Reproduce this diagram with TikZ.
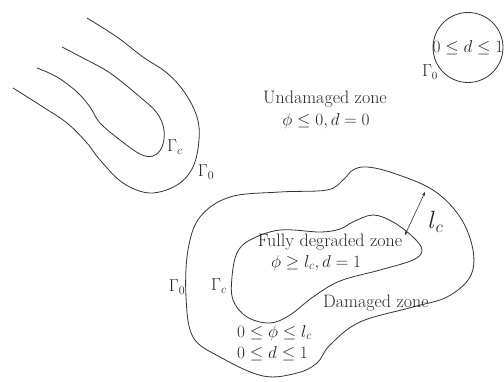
\documentclass[tikz,border=0pt]{standalone}
\usetikzlibrary{arrows.meta}
\begin{document}
\begin{tikzpicture}[x=1pt,y=-1pt,
  curve/.style={draw=black!80,line width=0.8pt},
  lbl/.style={inner sep=0pt,text=black!85,font=\fontsize{18}{21}\selectfont},
  smlbl/.style={inner sep=0pt,text=black!85,font=\fontsize{16}{19}\selectfont},
  biglbl/.style={inner sep=0pt,text=black!85,font=\fontsize{24}{28}\selectfont}]
\useasboundingbox (0,0) rectangle (504,382);
% left U-shaped fronts
\draw[curve] plot[smooth,tension=0.6] coordinates {(87,18) (117,37) (143,57) (167,73) (185,93) (197,117) (199,140) (193,167) (177,185) (150,193) (123,183) (100,160) (87,143) (67,123) (43,107) (13,88)};
\draw[curve] plot[smooth,tension=0.6] coordinates {(62,47) (83,58) (110,73) (140,97) (157,113) (164,130) (162,147) (153,156) (140,154) (120,140) (100,123) (90,107) (77,92) (57,77) (37,68)};
\node[lbl] (gcL) at (175,147) {$\Gamma_c$};
\node[lbl] (g0L) at (206,172) {$\Gamma_0$};
% small circle
\draw[curve] (468,47.5) circle[radius=35];
\node[smlbl] (circtext) at (468,47.5) {$0\leq d\leq 1$};
\node[smlbl] (g0C) at (430,72) {$\Gamma_0$};
% undamaged zone
\node[lbl] (und) at (325,99) {Undamaged zone};
\node[lbl] (undeq) at (326,121) {$\phi\leq 0, d=0$};
% big zone
\draw[curve] plot[smooth cycle,tension=0.6] coordinates {(367,167) (393,173) (433,190) (460,217) (473,250) (470,277) (447,297) (413,307) (360,322) (330,345) (317,363) (297,373) (263,376) (220,357) (193,337) (186,297) (188,250) (200,217) (230,197) (280,192) (327,190) (343,180) (353,170)};
\draw[curve] plot[smooth cycle,tension=0.6] coordinates {(353,222) (373,215) (393,222) (413,237) (422,250) (413,260) (380,270) (340,281) (313,297) (290,315) (270,323) (247,317) (233,300) (232,277) (237,253) (250,240) (280,230) (320,232) (340,229)};
\coordinate (ain) at (405,235);
\coordinate (aout) at (425,192);
\draw[black!80,line width=0.6pt,{Stealth[length=4pt,width=3pt]}-{Stealth[length=4pt,width=3pt]}] (ain) -- (aout);
\node[biglbl] (lc) at (436,222) {$l_c$};
\node[lbl] (fdz) at (330,242) {Fully degraded zone};
\node[lbl] (fdzeq) at (316,263) {$\phi\geq l_c, d=1$};
\node[lbl] (gcB) at (219,286) {$\Gamma_c$};
\node[lbl] (g0B) at (177,287) {$\Gamma_0$};
\node[lbl,anchor=west] (dz) at (323,303) {Damaged zone};
\node[lbl,anchor=west] (dzeq1) at (237,333) {$0\leq\phi\leq l_c$};
\node[lbl,anchor=west] (dzeq2) at (237,354) {$0\leq d\leq 1$};
\end{tikzpicture}
\end{document}
